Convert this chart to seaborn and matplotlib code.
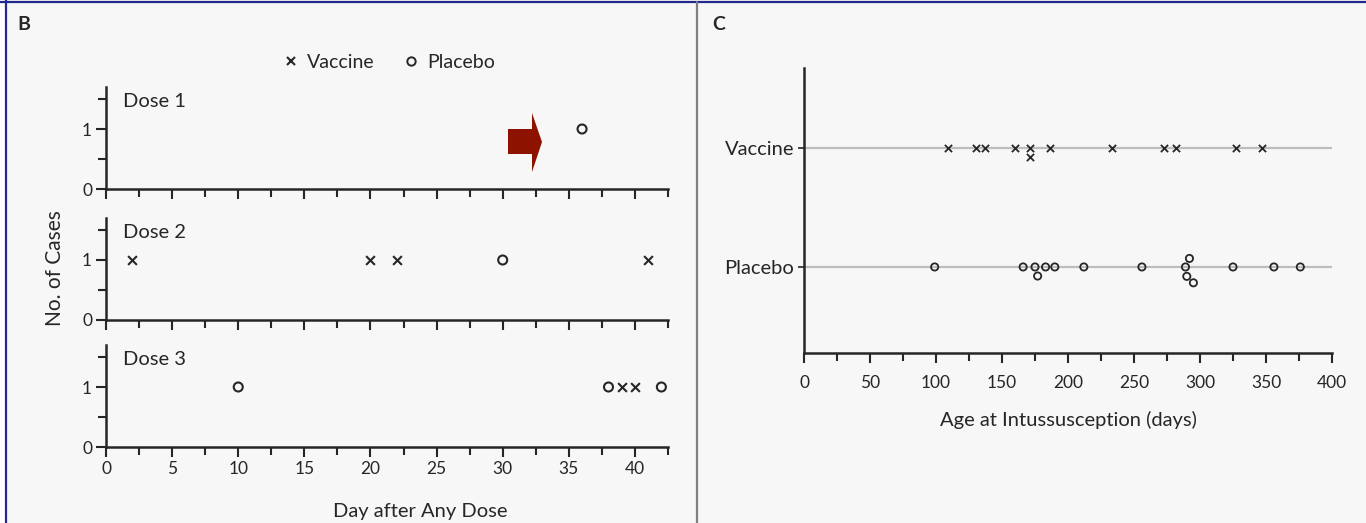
import matplotlib
matplotlib.use("Agg")
import pandas as pd
import matplotlib.pyplot as plt
import seaborn as sns
from matplotlib.lines import Line2D
from matplotlib.patches import Polygon, Rectangle
from matplotlib.ticker import MultipleLocator

# -----------------------
# data
# -----------------------
# panel B: day of each intussusception case after any dose (one case per mark)
dose_labels = ["Dose 1", "Dose 2", "Dose 3"]
vaccine_days = [[], [2, 20, 22, 41], [39, 40]]
placebo_days = [[36], [30], [10, 38, 42]]
b_xticks = [0, 5, 10, 15, 20, 25, 30, 35, 40]
b_yticks = [0, 1]

# panel C: age at intussusception (days)
groups = ["Vaccine", "Placebo"]
vaccine_age = [109, 130, 137, 160, 171, 171, 186, 233, 273, 282, 327, 347]
placebo_age = [99, 166, 175, 177, 183, 190, 212, 256, 289, 290, 292, 295, 325, 356, 376]
c_xticks = [0, 50, 100, 150, 200, 250, 300, 350, 400]

# -----------------------
# style
# -----------------------
sns.set_style("white")
BG = "#f7f7f7"
INK = "#262626"
plt.rcParams["font.family"] = ["Lato", "DejaVu Sans"]
plt.rcParams["font.size"] = 12.5
plt.rcParams["text.color"] = INK
plt.rcParams["axes.labelcolor"] = INK
plt.rcParams["xtick.color"] = INK
plt.rcParams["ytick.color"] = INK

W, H = 1366, 523
fig = plt.figure(figsize=(W / 100, H / 100), dpi=100, facecolor=BG)


def fx(px):
    return px / W


def fy(py):
    return 1 - py / H


def style_axis(ax):
    ax.set_facecolor("none")
    for s in ["top", "right"]:
        ax.spines[s].set_visible(False)
    for s in ["left", "bottom"]:
        ax.spines[s].set_linewidth(1.8)
        ax.spines[s].set_color(INK)
    ax.tick_params(which="major", direction="out", length=7, width=1.5, pad=3)
    ax.tick_params(which="minor", direction="out", length=6, width=1.5)
    ax.tick_params(left=True, bottom=True)
    ax.tick_params(which="minor", left=True, bottom=True)


# -----------------------
# panel B: three stacked dose panels
# -----------------------
b_left, b_right = 106, 668
b_bottoms = [189, 320, 447]
b_h = 102
axes_b = []
for i, lab in enumerate(dose_labels):
    ax = fig.add_axes([fx(b_left), fy(b_bottoms[i]), fx(b_right - b_left), b_h / H])
    style_axis(ax)
    if vaccine_days[i]:
        sns.scatterplot(x=vaccine_days[i], y=[1] * len(vaccine_days[i]), marker="x",
                        s=40, color=INK, linewidth=1.5, ax=ax, zorder=3)
    if placebo_days[i]:
        sns.scatterplot(x=placebo_days[i], y=[1] * len(placebo_days[i]), marker="o",
                        s=42, ax=ax, zorder=3)
        pts = ax.collections[-1]
        pts.set_facecolor("none")
        pts.set_edgecolor(INK)
        pts.set_linewidth(1.5)
    ax.set_xlim(0, 42.5)
    ax.set_ylim(0, 1.7)
    ax.set_xticks(b_xticks)
    ax.xaxis.set_minor_locator(MultipleLocator(2.5))
    ax.set_yticks(b_yticks)
    ax.yaxis.set_minor_locator(MultipleLocator(0.5))
    if i < 2:
        ax.set_xticklabels([])
    ax.set_xlabel("")
    ax.set_ylabel("")
    ax.text(0.03, 0.94, lab, transform=ax.transAxes, ha="left", va="top", fontsize=14.5)
    axes_b.append(ax)

fig.text(fx(420), fy(511), "Day after Any Dose", ha="center", va="center", fontsize=14.5)
fig.text(fx(55), fy(268), "No. of Cases", rotation=90, ha="center", va="center", fontsize=15)

# legend for panel B
handles = [
    Line2D([], [], marker="x", ls="none", color=INK, markersize=6, markeredgewidth=1.5),
    Line2D([], [], marker="o", ls="none", markerfacecolor="none", markeredgecolor=INK,
           markersize=6, markeredgewidth=1.4),
]
fig.legend(handles, ["Vaccine", "Placebo"], loc="center", bbox_to_anchor=(fx(388), fy(62)),
           ncol=2, frameon=False, handletextpad=0.3, columnspacing=1.4, handlelength=1.0,
           fontsize=14)

# red arrow annotation
arrow = [(508, 129), (532, 129), (532, 113), (542, 142), (532, 172), (532, 154), (508, 154)]
fig.add_artist(Polygon([(fx(x), fy(y)) for x, y in arrow], closed=True,
                       transform=fig.transFigure, facecolor="#8e1200", edgecolor="none"))

# -----------------------
# panel C: swarm of ages
# -----------------------
c_left, c_right, c_top, c_bottom = 804, 1332, 68, 353
axc = fig.add_axes([fx(c_left), fy(c_bottom), fx(c_right - c_left), (c_bottom - c_top) / H])
style_axis(axc)

df_v = pd.DataFrame({"age": vaccine_age, "group": "Vaccine"})
df_p = pd.DataFrame({"age": placebo_age, "group": "Placebo"})

for i, g in enumerate(groups):
    axc.axhline(i, color="#bdbdbd", lw=1.6, zorder=1)

sns.swarmplot(data=df_v, x="age", y="group", order=groups, marker="x", size=5.2,
              color=INK, linewidth=1.3, ax=axc, zorder=3)
sns.swarmplot(data=df_p, x="age", y="group", order=groups, marker="o", size=5.2,
              color=INK, ax=axc, zorder=3)
pts = axc.collections[-1]
pts.set_facecolor("none")
pts.set_edgecolor(INK)
pts.set_linewidth(1.3)

axc.set_xlim(0, 400)
axc.set_ylim(1.723, -0.672)
axc.set_xticks(c_xticks)
axc.xaxis.set_minor_locator(MultipleLocator(25))
axc.tick_params(axis="x", which="major", pad=9)
axc.set_yticks([0, 1])
axc.set_yticklabels(groups, fontsize=14.5)
axc.tick_params(axis="y", length=4, width=1.2)
axc.set_ylabel("")
axc.set_xlabel("Age at Intussusception (days)", fontsize=14.5, labelpad=14)

# -----------------------
# panel letters and frame
# -----------------------
fig.text(fx(17), fy(25), "B", fontsize=14, fontweight="bold", ha="left", va="center")
fig.text(fx(712), fy(25), "C", fontsize=14, fontweight="bold", ha="left", va="center")

fig.add_artist(Rectangle((0, 0), fx(5), 1, transform=fig.transFigure, facecolor="white",
                         edgecolor="none"))
fig.add_artist(Line2D([fx(6), fx(6)], [0, 1], transform=fig.transFigure, color="#1f2a8c", lw=1.6))
fig.add_artist(Line2D([0, 1], [fy(2), fy(2)], transform=fig.transFigure, color="#1f2a8c", lw=1.6))
fig.add_artist(Line2D([fx(697), fx(697)], [0, fy(2)], transform=fig.transFigure, color="#808080",
                      lw=1.6))

fig.savefig("out.png", dpi=100, facecolor=BG)
